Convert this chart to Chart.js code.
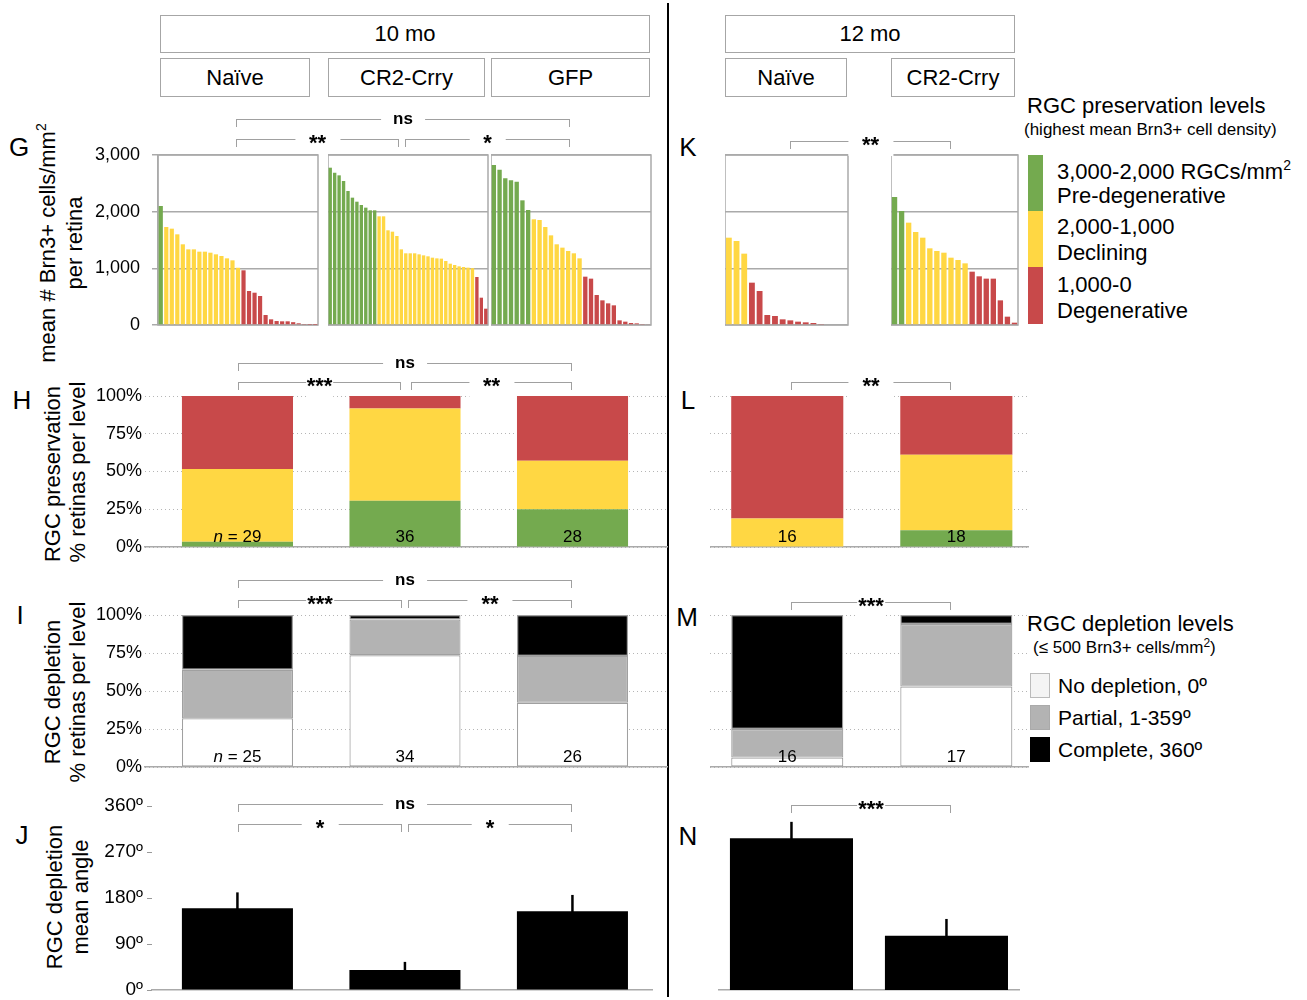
<!DOCTYPE html>
<html>
<head>
<meta charset="utf-8">
<title>RGC preservation and depletion</title>
<script src="https://cdn.jsdelivr.net/npm/chart.js@4.4.1/dist/chart.umd.min.js"></script>
<style>
  body { margin: 0; background: #fff; }
  #page { position: relative; width: 1307px; height: 1000px; overflow: hidden; font-family: "Liberation Sans", Arial, Helvetica, sans-serif; color: #000; }
  #page canvas { position: absolute; }
  .hdr { position: absolute; box-sizing: border-box; border: 1.5px solid #a6a6a6; display: flex; align-items: center; justify-content: center; font-size: 22px; }
  .letter { position: absolute; font-size: 26px; transform: translate(-50%, -50%); }
  .ytitle { position: absolute; font-size: 22px; white-space: nowrap; transform: translate(-50%, -50%) rotate(-90deg); }
  .bracket { position: absolute; box-sizing: border-box; height: 8px; border: 1.5px solid #a0a0a0; border-bottom: none; }
  .bracket span { position: absolute; left: 50%; transform: translateX(-50%); background: #fff; font-weight: bold; line-height: 1; white-space: nowrap; }
  .ltext { position: absolute; white-space: nowrap; transform: translateY(-50%); }
  .swatch { position: absolute; box-sizing: border-box; }
  #divider { position: absolute; left: 667px; top: 3px; width: 2px; height: 994px; background: #000; }
</style>
</head>
<body>
<div id="page">
  <div id="divider"></div>

  <div class="hdr" style="left:160px;top:15px;width:490px;height:38px;">10 mo</div>
  <div class="hdr" style="left:160px;top:58px;width:150px;height:39px;">Naïve</div>
  <div class="hdr" style="left:328px;top:58px;width:157px;height:39px;">CR2-Crry</div>
  <div class="hdr" style="left:491px;top:58px;width:159px;height:39px;">GFP</div>
  <div class="hdr" style="left:725px;top:15px;width:290px;height:38px;">12 mo</div>
  <div class="hdr" style="left:725px;top:58px;width:122px;height:39px;">Naïve</div>
  <div class="hdr" style="left:891px;top:58px;width:124px;height:39px;">CR2-Crry</div>

  <div class="letter" style="left:19px;top:147px;">G</div>
  <div class="letter" style="left:22px;top:400px;">H</div>
  <div class="letter" style="left:20px;top:615px;">I</div>
  <div class="letter" style="left:22px;top:835px;">J</div>
  <div class="letter" style="left:688px;top:147px;">K</div>
  <div class="letter" style="left:688px;top:400px;">L</div>
  <div class="letter" style="left:687px;top:617px;">M</div>
  <div class="letter" style="left:688px;top:836px;">N</div>

  <div class="ytitle" style="left:47px;top:243px;">mean # Brn3+ cells/mm<sup style="font-size:14px;">2</sup></div>
  <div class="ytitle" style="left:75px;top:243px;">per retina</div>
  <div class="ytitle" style="left:53px;top:474px;">RGC preservation</div>
  <div class="ytitle" style="left:78px;top:472px;">% retinas per level</div>
  <div class="ytitle" style="left:53px;top:692px;">RGC depletion</div>
  <div class="ytitle" style="left:78px;top:692px;">% retinas per level</div>
  <div class="ytitle" style="left:55px;top:897px;">RGC depletion</div>
  <div class="ytitle" style="left:81px;top:897px;">mean angle</div>

  <div class="ltext" style="left:1027px;top:106px;font-size:22px;">RGC preservation levels</div>
  <div class="ltext" style="left:1024px;top:130px;font-size:17px;">(highest mean Brn3+ cell density)</div>
  <div class="swatch" style="left:1028px;top:155px;width:15px;height:56px;background:#74aa4f;"></div>
  <div class="swatch" style="left:1028px;top:211px;width:15px;height:56px;background:#ffd743;"></div>
  <div class="swatch" style="left:1028px;top:267px;width:15px;height:57px;background:#c8494a;"></div>
  <div class="ltext" style="left:1057px;top:171px;font-size:22px;">3,000-2,000 RGCs/mm<sup style="font-size:14px;">2</sup></div>
  <div class="ltext" style="left:1057px;top:196px;font-size:22px;">Pre-degenerative</div>
  <div class="ltext" style="left:1057px;top:227px;font-size:22px;">2,000-1,000</div>
  <div class="ltext" style="left:1057px;top:253px;font-size:22px;">Declining</div>
  <div class="ltext" style="left:1057px;top:285px;font-size:22px;">1,000-0</div>
  <div class="ltext" style="left:1057px;top:311px;font-size:22px;">Degenerative</div>

  <div class="ltext" style="left:1027px;top:624px;font-size:22px;">RGC depletion levels</div>
  <div class="ltext" style="left:1033px;top:647px;font-size:17px;">(≤ 500 Brn3+ cells/mm<sup style="font-size:12px;">2</sup>)</div>
  <div class="swatch" style="left:1030px;top:673px;width:20px;height:25px;background:#f4f4f4;border:1.5px solid #bbb;"></div>
  <div class="swatch" style="left:1030px;top:705px;width:20px;height:25px;background:#b3b3b3;border:1.5px solid #aaa;"></div>
  <div class="swatch" style="left:1030px;top:737px;width:20px;height:25px;background:#000;"></div>
  <div class="ltext" style="left:1058px;top:686px;font-size:21px;">No depletion, 0º</div>
  <div class="ltext" style="left:1058px;top:718px;font-size:21px;">Partial, 1-359º</div>
  <div class="ltext" style="left:1058px;top:750px;font-size:21px;">Complete, 360º</div>
</div>

<script>
// ---- data ----
const groups10 = ['Naïve', 'CR2-Crry', 'GFP'];
const groups12 = ['Naïve', 'CR2-Crry'];

// G / K: mean Brn3+ cells/mm2 per retina, sorted
const densityNaive10 = [2100, 1729, 1700, 1600, 1424, 1335, 1335, 1294, 1294, 1276, 1247, 1218, 1176, 1141, 1010,
  965, 600, 570, 512, 176, 100, 70, 65, 65, 50, 30, 8, 5, 3];
const densityCrry10 = [2776, 2688, 2641, 2541, 2365, 2247, 2176, 2118, 2071, 2024, 2024,
  1918, 1918, 1671, 1647, 1571, 1335, 1265, 1265, 1265, 1247, 1229, 1212, 1188, 1176, 1171, 1129, 1082, 1059, 1035, 1024, 1012, 1003,
  847, 482, 288];
const densityGfp10 = [2824, 2741, 2588, 2553, 2529, 2200, 2029,
  1865, 1853, 1729, 1582, 1424, 1365, 1306, 1265, 1176,
  853, 818, 529, 435, 382, 347, 82, 59, 35, 29, 18, 12];
const densityNaive12 = [1541, 1482, 1259, 747, 600, 176, 159, 100, 82, 59, 47, 35, 18, 0, 0, 0];
const densityCrry12 = [2259, 2012, 1806, 1641, 1541, 1353, 1306, 1276, 1188, 1147, 1088, 941, 859, 818, 818, 435, 147, 41];
const densityTicks = [0, 1000, 2000, 3000];

// H / L: % retinas per preservation level
const presGreen10 = [3.4, 30.6, 25.0];
const presYellow10 = [48.3, 61.1, 32.1];
const presRed10 = [48.3, 8.3, 42.9];
const presGreen12 = [0, 11.1];
const presYellow12 = [18.8, 50.0];
const presRed12 = [81.2, 38.9];
const presN10 = [29, 36, 28];
const presN12 = [16, 18];

// I / M: % retinas per depletion level
const deplNone10 = [32.0, 73.5, 42.3];
const deplPartial10 = [32.0, 23.5, 30.8];
const deplComplete10 = [36.0, 3.0, 26.9];
const deplNone12 = [6.2, 52.9];
const deplPartial12 = [18.8, 41.2];
const deplComplete12 = [75.0, 5.9];
const deplN10 = [25, 34, 26];
const deplN12 = [16, 17];
const percentTicks = [0, 25, 50, 75, 100];

// J / N: mean depletion angle (+ upper error)
const angleMean10 = [160, 39, 154];
const angleErr10 = [31, 16, 32];
const angleMean12 = [297, 106];
const angleErr12 = [32, 33];
const angleTicks = [0, 90, 180, 270, 360];

// ---- styling ----
const GREEN = '#74aa4f';
const YELLOW = '#ffd743';
const RED = '#c8494a';
const PARTIAL = '#b3b3b3';
const FONT = '"Liberation Sans", Arial, Helvetica, sans-serif';

Chart.defaults.font.family = FONT;
Chart.defaults.color = '#000';

const page = document.getElementById('page');
// generous padding so label overflow never moves the plot area
const PAD_T = 30, PAD_B = 30, PAD_R = 8;

function levelColor(v) {
  if (v >= 2000) return GREEN;
  if (v >= 1000) return YELLOW;
  return RED;
}

function makeCanvas(area, yW) {
  const c = document.createElement('canvas');
  const left = area.l - yW;
  const top = area.t - PAD_T;
  const w = area.r - left + PAD_R;
  const h = area.b - top + PAD_B;
  c.width = w;
  c.height = h;
  c.style.left = left + 'px';
  c.style.top = top + 'px';
  c.style.width = w + 'px';
  c.style.height = h + 'px';
  page.appendChild(c);
  return c;
}

function baseOptions() {
  return {
    responsive: false,
    animation: false,
    devicePixelRatio: 1,
    layout: { padding: { top: PAD_T, bottom: PAD_B, left: 0, right: PAD_R } },
    plugins: { legend: { display: false }, tooltip: { enabled: false } }
  };
}

// gray box round each density panel
const frame = {
  id: 'frame',
  beforeDatasetsDraw(chart) {
    const { ctx, chartArea: a } = chart;
    ctx.save();
    ctx.strokeStyle = '#aaa';
    ctx.lineWidth = 1.5;
    ctx.strokeRect(a.left, a.top, a.right - a.left, a.bottom - a.top);
    ctx.restore();
  }
};

// one-sided error bars
const errorBars = {
  id: 'errorBars',
  afterDatasetsDraw(chart, args, opts) {
    const { ctx } = chart;
    const ys = chart.scales.y;
    const meta = chart.getDatasetMeta(0);
    ctx.save();
    ctx.strokeStyle = '#000';
    ctx.lineWidth = 2.5;
    meta.data.forEach((bar, i) => {
      const top = ys.getPixelForValue(opts.means[i] + opts.errors[i]);
      ctx.beginPath();
      ctx.moveTo(bar.x, bar.y + 2);
      ctx.lineTo(bar.x, top);
      ctx.stroke();
    });
    ctx.restore();
  }
};

// sample size under each bar
const nLabels = {
  id: 'nLabels',
  afterDatasetsDraw(chart, args, opts) {
    const { ctx } = chart;
    const xs = chart.scales.x;
    const y = chart.scales.y.getPixelForValue(0) - 10;
    const plain = '17px ' + FONT;
    const italic = 'italic 17px ' + FONT;
    ctx.save();
    ctx.fillStyle = '#000';
    ctx.textBaseline = 'middle';
    opts.values.forEach((n, i) => {
      const x = xs.getPixelForValue(i);
      if (i === 0 && opts.prefix) {
        const rest = ' = ' + n;
        ctx.font = italic;
        const w1 = ctx.measureText('n').width;
        ctx.font = plain;
        const w2 = ctx.measureText(rest).width;
        const x0 = x - (w1 + w2) / 2;
        ctx.textAlign = 'left';
        ctx.font = italic;
        ctx.fillText('n', x0, y);
        ctx.font = plain;
        ctx.fillText(rest, x0 + w1, y);
      } else {
        ctx.font = plain;
        ctx.textAlign = 'center';
        ctx.fillText(String(n), x, y);
      }
    });
    ctx.restore();
  }
};

function densityChart(values, area, showAxis) {
  const yW = showAxis ? 98 : 0;
  const canvas = makeCanvas(area, yW);
  const options = baseOptions();
  options.scales = {
    x: { display: false },
    y: {
      min: 0,
      max: 3000,
      afterFit: (s) => { s.width = yW; },
      afterBuildTicks: (s) => { s.ticks = densityTicks.map((v) => ({ value: v })); },
      ticks: { display: showAxis, padding: 12, font: { size: 18 }, callback: (v) => v.toLocaleString('en-US') },
      grid: { color: '#aaa', lineWidth: 1.5, drawTicks: showAxis, tickLength: 6 },
      border: { display: showAxis, color: '#aaa', width: 1.5 }
    }
  };
  return new Chart(canvas, {
    type: 'bar',
    data: {
      labels: values.map((v, i) => i + 1),
      datasets: [{
        data: values,
        backgroundColor: (ctx) => levelColor(ctx.raw),
        barPercentage: 0.76,
        categoryPercentage: 1
      }]
    },
    options,
    plugins: [frame]
  });
}

function points(values) {
  return values.map((v, i) => ({ x: i, y: v }));
}

// linear x axis so the bars sit where the figure puts them; one tick per group
function xLinear(groups, range) {
  return {
    type: 'linear',
    min: range[0],
    max: range[1],
    offset: false,
    stacked: true,
    afterFit: (s) => { s.height = 0; },
    afterBuildTicks: (s) => { s.ticks = groups.map((g, i) => ({ value: i })); },
    ticks: { display: false },
    grid: { display: false },
    border: { display: true, color: '#aaa', width: 1.5 }
  };
}

function percentChart(groups, series, area, range, barWidth, showAxis, nValues, prefix) {
  const yW = showAxis ? 60 : 0;
  const canvas = makeCanvas(area, yW);
  const options = baseOptions();
  options.plugins.nLabels = { values: nValues, prefix };
  options.scales = {
    x: xLinear(groups, range),
    y: {
      min: 0,
      max: 100,
      stacked: true,
      afterFit: (s) => { s.width = yW; },
      afterBuildTicks: (s) => { s.ticks = percentTicks.map((v) => ({ value: v })); },
      ticks: { display: showAxis, padding: 3, font: { size: 18 }, callback: (v) => v + '%' },
      grid: { color: '#b5b5b5', lineWidth: 1, drawTicks: false },
      border: { display: false, dash: [1, 3] }
    }
  };
  return new Chart(canvas, {
    type: 'bar',
    data: {
      datasets: series.map((s) => ({
        data: points(s.values),
        backgroundColor: s.color,
        borderColor: s.border || s.color,
        borderWidth: s.border ? 1.2 : 0,
        borderSkipped: false,
        barPercentage: barWidth,
        categoryPercentage: 1
      }))
    },
    options,
    plugins: [nLabels]
  });
}

function angleChart(groups, means, errors, area, range, barWidth, showAxis) {
  const yW = showAxis ? 60 : 0;
  const canvas = makeCanvas(area, yW);
  const options = baseOptions();
  options.plugins.errorBars = { means, errors };
  options.scales = {
    x: xLinear(groups, range),
    y: {
      display: showAxis,
      min: 0,
      max: 360,
      afterFit: (s) => { s.width = yW; },
      afterBuildTicks: (s) => { s.ticks = angleTicks.map((v) => ({ value: v })); },
      ticks: { padding: 4, font: { size: 19 }, callback: (v) => v + 'º' },
      grid: { drawOnChartArea: false, drawTicks: true, tickLength: 5, color: '#999' },
      border: { display: false }
    }
  };
  return new Chart(canvas, {
    type: 'bar',
    data: {
      datasets: [{
        data: points(means),
        backgroundColor: '#000',
        barPercentage: barWidth,
        categoryPercentage: 1
      }]
    },
    options,
    plugins: [errorBars]
  });
}

// ---- panels ----
densityChart(densityNaive10, { l: 158, r: 318, t: 155, b: 325 }, true);
densityChart(densityCrry10, { l: 328, r: 488, t: 155, b: 325 }, false);
densityChart(densityGfp10, { l: 491, r: 651, t: 155, b: 325 }, false);
densityChart(densityNaive12, { l: 725, r: 848, t: 155, b: 325 }, false);
densityChart(densityCrry12, { l: 891, r: 1018, t: 155, b: 325 }, false);

const range10 = [-0.552, 2.564];
const range12 = [-0.457, 1.424];

percentChart(groups10, [
  { values: presGreen10, color: GREEN },
  { values: presYellow10, color: YELLOW },
  { values: presRed10, color: RED }
], { l: 145, r: 667, t: 396, b: 547 }, range10, 0.663, true, presN10, true);

percentChart(groups12, [
  { values: presGreen12, color: GREEN },
  { values: presYellow12, color: YELLOW },
  { values: presRed12, color: RED }
], { l: 710, r: 1028, t: 396, b: 547 }, range12, 0.663, false, presN12, false);

percentChart(groups10, [
  { values: deplNone10, color: '#fff', border: '#a0a0a0' },
  { values: deplPartial10, color: PARTIAL, border: '#a0a0a0' },
  { values: deplComplete10, color: '#000', border: '#a0a0a0' }
], { l: 145, r: 667, t: 615, b: 767 }, range10, 0.663, true, deplN10, true);

percentChart(groups12, [
  { values: deplNone12, color: '#fff', border: '#a0a0a0' },
  { values: deplPartial12, color: PARTIAL, border: '#a0a0a0' },
  { values: deplComplete12, color: '#000', border: '#a0a0a0' }
], { l: 710, r: 1028, t: 615, b: 767 }, range12, 0.663, false, deplN12, false);

angleChart(groups10, angleMean10, angleErr10, { l: 152, r: 652, t: 806, b: 990 }, [-0.51, 2.475], 0.663, true);
angleChart(groups12, angleMean12, angleErr12, { l: 718, r: 1019, t: 806, b: 990 }, [-0.474, 1.468], 0.794, false);

// ---- significance brackets ----
const brackets = [
  [236, 570, 119, 'ns'], [236, 399, 139, '**'], [405, 570, 139, '*'],
  [790, 951, 141, '**'],
  [238, 572, 363, 'ns'], [238, 401, 382, '***'], [411, 572, 382, '**'],
  [791, 951, 382, '**'],
  [238, 572, 580, 'ns'], [238, 402, 600, '***'], [408, 572, 600, '**'],
  [791, 951, 602, '***'],
  [238, 572, 804, 'ns'], [238, 402, 824, '*'], [408, 572, 824, '*'],
  [791, 951, 805, '***']
];

brackets.forEach(([x1, x2, y, text]) => {
  const b = document.createElement('div');
  b.className = 'bracket';
  b.style.left = x1 + 'px';
  b.style.top = y + 'px';
  b.style.width = (x2 - x1) + 'px';
  const s = document.createElement('span');
  s.textContent = text;
  if (text === 'ns') {
    s.style.fontSize = '17px';
    s.style.top = '-10px';
    s.style.padding = '0 12px';
  } else {
    s.style.fontSize = '22px';
    s.style.top = '-8px';
    s.style.padding = text === '***' ? '0 1px' : '0 14px';
  }
  b.appendChild(s);
  page.appendChild(b);
});
</script>
</body>
</html>
